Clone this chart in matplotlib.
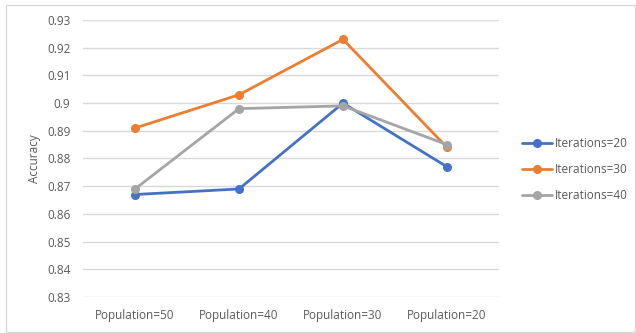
import matplotlib
matplotlib.use("Agg")
import matplotlib.pyplot as plt
from matplotlib.patches import Rectangle

categories = ["Population=50", "Population=40", "Population=30", "Population=20"]
iter20 = [0.867, 0.869, 0.900, 0.877]
iter30 = [0.891, 0.903, 0.923, 0.884]
iter40 = [0.869, 0.898, 0.899, 0.885]
series_names = ["Iterations=20", "Iterations=30", "Iterations=40"]
colors = ["#4472C4", "#ED7D31", "#A5A5A5"]
yticks = [0.83, 0.84, 0.85, 0.86, 0.87, 0.88, 0.89, 0.90, 0.91, 0.92, 0.93]
ytick_labels = ["0.83", "0.84", "0.85", "0.86", "0.87", "0.88", "0.89", "0.9", "0.91", "0.92", "0.93"]

plt.rcParams["font.family"] = ["Open Sans", "DejaVu Sans"]

W, H = 636, 333
fig = plt.figure(figsize=(W / 100, H / 100), dpi=100)
fig.patch.set_facecolor("white")
fig.add_artist(Rectangle((6 / W, 1 / H), 629 / W, 327 / H, transform=fig.transFigure,
                         fill=False, edgecolor="#D9D9D9", linewidth=1.0))

ax = fig.add_axes([83 / W, 1 - 297 / H, 416 / W, 277 / H])
x = list(range(len(categories)))
for vals, name, c in zip([iter20, iter30, iter40], series_names, colors):
    ax.plot(x, vals, color=c, linewidth=2.0, marker="o", markersize=5.5, label=name,
            solid_capstyle="round")

ax.set_xlim(-0.5, len(categories) - 0.5)
ax.set_ylim(0.83, 0.93)
ax.set_yticks(yticks)
ax.set_yticklabels(ytick_labels)
ax.set_xticks(x)
ax.set_xticklabels(categories)
ax.grid(axis="y", color="#D9D9D9", linewidth=1.0)
ax.set_axisbelow(True)
for s in ax.spines.values():
    s.set_visible(False)
ax.tick_params(axis="both", length=0, colors="#595959", labelsize=8.5)
ax.tick_params(axis="y", pad=9)
ax.tick_params(axis="x", pad=9)
ax.set_ylabel("Accuracy", color="#595959", fontsize=8.5, labelpad=4)

leg = ax.legend(loc="center left", bbox_to_anchor=((522 - 83) / 416, 0.459),
                frameon=False, fontsize=8.5, handlelength=2.5, handletextpad=0.25,
                labelspacing=1.1, borderaxespad=0, borderpad=0)
for t in leg.get_texts():
    t.set_color("#595959")

fig.savefig("out.png", dpi=100, facecolor="white")
